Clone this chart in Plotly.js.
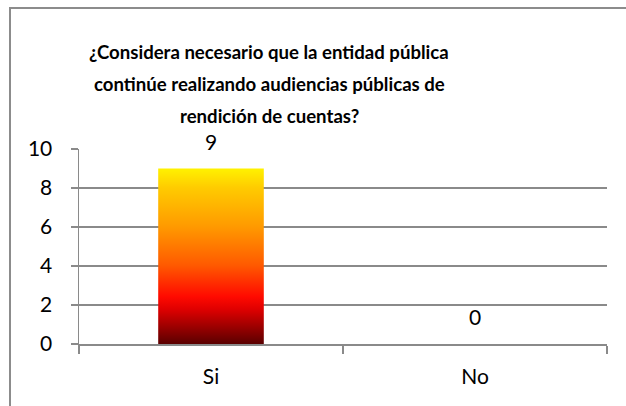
<!DOCTYPE html>
<html>
<head>
<meta charset="utf-8">
<script src="https://cdn.plot.ly/plotly-3.0.1.min.js"></script>
<style>
  html, body { margin: 0; padding: 0; background: #ffffff; overflow: hidden; }
  #frame { position: absolute; left: 9px; top: 7px; width: 700px; height: 500px;
           border: 2px solid #8c8c8c; box-sizing: border-box; pointer-events: none; z-index: 5; }
  #chart { position: absolute; left: 0; top: 0; width: 626px; height: 406px; }
</style>
</head>
<body>
<div id="chart"></div>
<div id="frame"></div>
<script>
// ---- data ----
const titleLines = [
  "¿Considera necesario que la entidad pública",
  "continúe realizando audiencias públicas de",
  "rendición de cuentas?"
];
const categories = ["Si", "No"];
const values = [9, 0];
const yTickValues = [0, 2, 4, 6, 8, 10];
const yTickLabels = ["0", "2", "4", "6", "8", "10"];

// ---- styling ----
const FONT = "Lato, 'Open Sans', sans-serif";
const GRID = "#8a8a8a";
const titleY = [1.497, 1.335, 1.170];

const trace = {
  type: "bar",
  x: categories,
  y: values,
  marker: { color: "#ff6a00", line: { width: 0 } },
  hoverinfo: "x+y",
  showlegend: false
};

const annotations = [];
titleLines.forEach((t, i) => {
  annotations.push({
    text: "<b>" + t + "</b>", xref: "paper", yref: "paper",
    x: 0.36, y: titleY[i], xanchor: "center", yanchor: "middle",
    showarrow: false, font: { family: FONT, size: 18.6, color: "#000000" }
  });
});
categories.forEach((c, i) => {
  annotations.push({
    text: String(values[i]), x: c, y: values[i], xref: "x", yref: "y",
    xanchor: "center", yanchor: "bottom", yshift: 13, showarrow: false,
    font: { family: FONT, size: 21, color: "#000000" }
  });
});

const layout = {
  width: 626, height: 406,
  margin: { l: 79, r: 19, t: 149, b: 62, pad: 0 },
  paper_bgcolor: "#ffffff", plot_bgcolor: "#ffffff",
  bargap: 0.6,
  font: { family: FONT, size: 21, color: "#000000" },
  xaxis: {
    type: "category",
    showline: true, linecolor: GRID, linewidth: 1.5,
    ticks: "outside", tickson: "boundaries", ticklen: 8, tickcolor: GRID, tickwidth: 1.5,
    showgrid: false, zeroline: false,
    ticklabelstandoff: 13,
    tickfont: { family: FONT, size: 21, color: "#000000" }
  },
  yaxis: {
    range: [0, 10], tickvals: yTickValues, ticktext: yTickLabels,
    showline: true, linecolor: GRID, linewidth: 1.5,
    ticks: "outside", ticklen: 7, tickcolor: GRID, tickwidth: 1.5,
    showgrid: true, gridcolor: GRID, gridwidth: 1.5, zeroline: false,
    ticklabelstandoff: 14,
    tickfont: { family: FONT, size: 21, color: "#000000" }
  },
  annotations: annotations
};

Plotly.newPlot("chart", [trace], layout, { displayModeBar: false, staticPlot: true }).then(function (gd) {
  const svg = gd.querySelector("svg.main-svg");
  const ns = "http://www.w3.org/2000/svg";
  let defs = svg.querySelector("defs");
  if (!defs) { defs = document.createElementNS(ns, "defs"); svg.insertBefore(defs, svg.firstChild); }
  const grad = document.createElementNS(ns, "linearGradient");
  grad.setAttribute("id", "barGrad");
  grad.setAttribute("x1", "0"); grad.setAttribute("y1", "1");
  grad.setAttribute("x2", "0"); grad.setAttribute("y2", "0");
  [[0, "#5a0000"], [0.2, "#e00000"], [0.27, "#ff0a00"], [0.45, "#ff5a00"],
   [0.67, "#ff9a00"], [0.89, "#ffcb00"], [1, "#fff200"]].forEach(function (s) {
    const st = document.createElementNS(ns, "stop");
    st.setAttribute("offset", s[0]);
    st.setAttribute("stop-color", s[1]);
    grad.appendChild(st);
  });
  defs.appendChild(grad);
  gd.querySelectorAll(".barlayer .point path").forEach(function (p) {
    p.style.fill = "url(#barGrad)";
  });
});
</script>
</body>
</html>
